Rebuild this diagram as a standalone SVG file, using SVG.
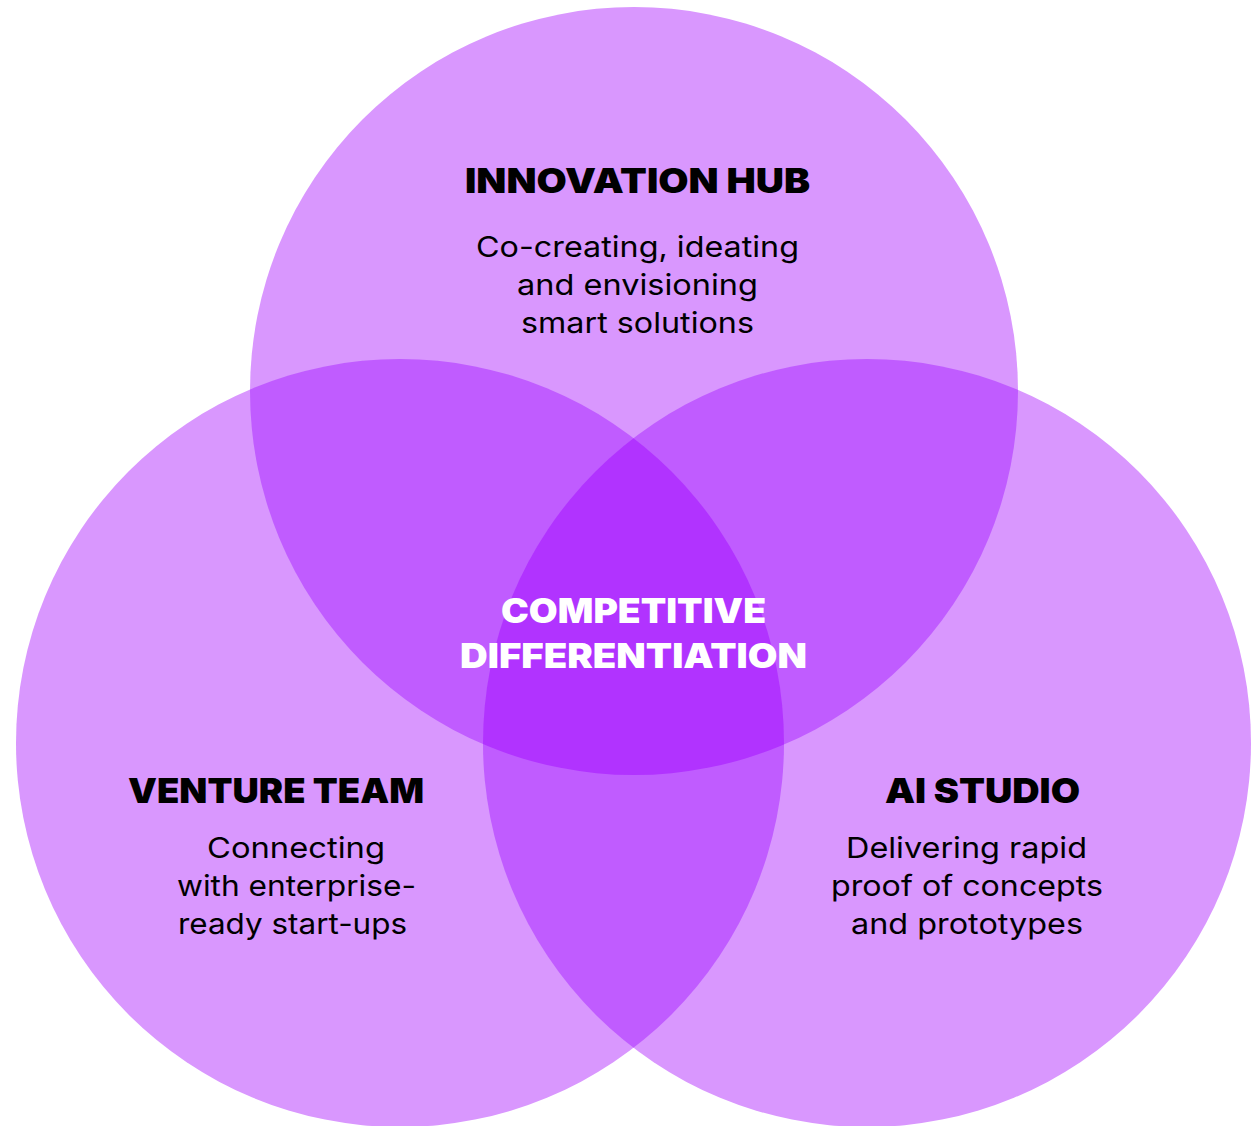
<svg xmlns="http://www.w3.org/2000/svg" width="1252" height="1126" viewBox="0 0 1252 1126">
  <style>
    .c1 { fill: #D997FE; }
    .c2 { fill: #C05CFF; }
    .c3 { fill: #B133FF; }
    .title { font-family: Inter, "Liberation Sans", Arial, sans-serif; font-weight: 900; font-size: 34px; fill: #000; text-anchor: middle; }
    .body { font-family: Inter, "Liberation Sans", Arial, sans-serif; font-weight: 400; font-size: 29px; fill: #000; text-anchor: middle; }
    .center { font-family: Inter, "Liberation Sans", Arial, sans-serif; font-weight: 900; font-size: 34px; fill: #fff; text-anchor: middle; }
  </style>
  <defs>
    <clipPath id="clipTop"><circle cx="634" cy="391" r="384"/></clipPath>
    <clipPath id="clipLeft"><circle cx="400" cy="743" r="384"/></clipPath>
    <clipPath id="clipRight"><circle cx="867" cy="743" r="384"/></clipPath>
  </defs>
  <rect width="1252" height="1126" fill="#fff"/>
  <g id="innovation-hub">
    <circle class="c1" cx="634" cy="391" r="384"/>
  </g>
  <g id="venture-team">
    <circle class="c1" cx="400" cy="743" r="384"/>
  </g>
  <g id="ai-studio">
    <circle class="c1" cx="867" cy="743" r="384"/>
  </g>
  <g id="overlaps">
    <circle class="c2" cx="400" cy="743" r="384" clip-path="url(#clipTop)"/>
    <circle class="c2" cx="867" cy="743" r="384" clip-path="url(#clipTop)"/>
    <circle class="c2" cx="867" cy="743" r="384" clip-path="url(#clipLeft)"/>
    <g clip-path="url(#clipTop)">
      <circle class="c3" cx="867" cy="743" r="384" clip-path="url(#clipLeft)"/>
    </g>
  </g>
  <g id="labels-innovation-hub">
    <text class="title" x="637.5" y="193" textLength="345" lengthAdjust="spacingAndGlyphs">INNOVATION HUB</text>
    <text class="body" x="637.5" y="257" textLength="323" lengthAdjust="spacingAndGlyphs">Co-creating, ideating</text>
    <text class="body" x="637.5" y="295" textLength="241" lengthAdjust="spacingAndGlyphs">and envisioning</text>
    <text class="body" x="637.5" y="333" textLength="233" lengthAdjust="spacingAndGlyphs">smart solutions</text>
  </g>
  <g id="labels-venture-team">
    <text class="title" x="276" y="803" textLength="296" lengthAdjust="spacingAndGlyphs">VENTURE TEAM</text>
    <text class="body" x="296" y="858" textLength="178" lengthAdjust="spacingAndGlyphs">Connecting</text>
    <text class="body" x="296.5" y="896" textLength="239" lengthAdjust="spacingAndGlyphs">with enterprise-</text>
    <text class="body" x="292.5" y="934" textLength="229" lengthAdjust="spacingAndGlyphs">ready start-ups</text>
  </g>
  <g id="labels-ai-studio">
    <text class="title" x="982.5" y="803" textLength="195" lengthAdjust="spacingAndGlyphs">AI STUDIO</text>
    <text class="body" x="966.5" y="858" textLength="241" lengthAdjust="spacingAndGlyphs">Delivering rapid</text>
    <text class="body" x="967" y="896" textLength="272" lengthAdjust="spacingAndGlyphs">proof of concepts</text>
    <text class="body" x="967" y="934" textLength="232" lengthAdjust="spacingAndGlyphs">and prototypes</text>
  </g>
  <g id="competitive-differentiation">
    <text class="center" x="633.5" y="623" textLength="265" lengthAdjust="spacingAndGlyphs">COMPETITIVE</text>
    <text class="center" x="633.5" y="668" textLength="347" lengthAdjust="spacingAndGlyphs">DIFFERENTIATION</text>
  </g>
</svg>
